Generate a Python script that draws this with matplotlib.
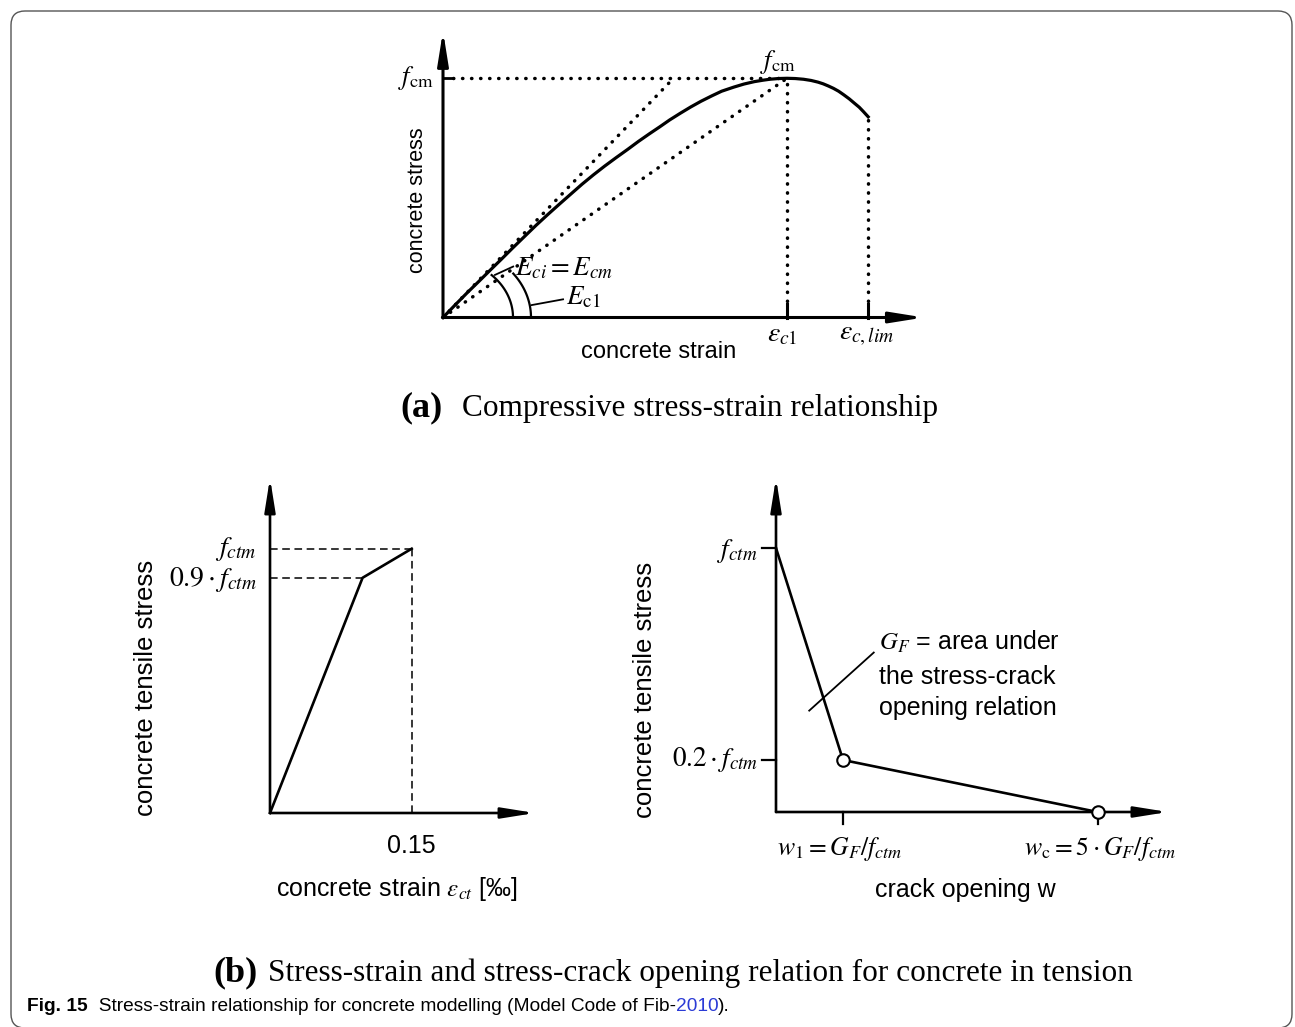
import numpy as np
import matplotlib
matplotlib.use("Agg")
import matplotlib.pyplot as plt
from matplotlib.patches import FancyBboxPatch

plt.rcParams["mathtext.fontset"] = "stix"
plt.rcParams["font.family"] = ["Liberation Sans", "DejaVu Sans"]

W, H = 1295, 1027

# ---------------- data ----------------
# (a) compressive curve: strain / eps_c1, stress / f_cm
comp_strain = [0, 0.035, 0.07, 0.105, 0.138, 0.17, 0.20, 0.235, 0.271, 0.305, 0.34, 0.37,
               0.404, 0.437, 0.47, 0.503, 0.537, 0.568, 0.60, 0.63, 0.659, 0.69, 0.72,
               0.75, 0.782, 0.81, 0.845, 0.875, 0.905, 0.93, 0.95, 0.975, 1.0, 1.024,
               1.048, 1.07, 1.09, 1.105, 1.12, 1.135, 1.15, 1.165, 1.181, 1.195, 1.21,
               1.222, 1.236]
comp_stress = [0, 0.052, 0.103, 0.152, 0.199, 0.244, 0.287, 0.336, 0.386, 0.431, 0.476,
               0.514, 0.557, 0.596, 0.633, 0.668, 0.703, 0.736, 0.768, 0.797, 0.826,
               0.854, 0.880, 0.904, 0.927, 0.946, 0.963, 0.976, 0.986, 0.992, 0.996,
               0.999, 1.0, 0.999, 0.996, 0.991, 0.984, 0.977, 0.968, 0.958, 0.946,
               0.931, 0.914, 0.897, 0.879, 0.861, 0.839]
eps_c1 = 1.0
eps_clim = 1.236
f_cm = 1.0
tangent_end = 0.67   # where the E_ci tangent meets f_cm

# (b) left: tension, strain in permille, stress / f_ctm
tens_strain = [0, 0.098, 0.15]
tens_stress = [0, 0.89, 1.0]

# (b) right: stress vs crack opening, w / w1, stress / f_ctm
crack_w = [0, 1.0, 4.8]
crack_stress = [1.0, 0.197, 0]

fig = plt.figure(figsize=(W / 100, H / 100), dpi=100)

# pixel-space background axes for frame and captions
bg = fig.add_axes([0, 0, 1, 1])
bg.set_xlim(0, W)
bg.set_ylim(H, 0)
bg.axis("off")
bg.add_patch(FancyBboxPatch((11, 11), 1281, 1017, boxstyle="round,pad=0,rounding_size=14",
                            fc="none", ec="#555555", lw=1.0))


def panel(x0, y0, sx, sy, xmax, ymax):
    # x0, y0 = origin in pixels, sx, sy = pixels per data unit
    ax = fig.add_axes([x0 / W, (H - y0) / H, xmax * sx / W, ymax * sy / H])
    ax.set_xlim(0, xmax)
    ax.set_ylim(0, ymax)
    ax.axis("off")
    return ax


def axis_arrows(ax, xmax, ymax, lw):
    kw = dict(arrowstyle="-|>,head_length=2.0,head_width=0.32", lw=lw, color="k",
              shrinkA=0, shrinkB=0)
    ax.annotate("", xy=(xmax, 0), xytext=(0, 0), arrowprops=kw, annotation_clip=False)
    ax.annotate("", xy=(0, ymax), xytext=(0, 0), arrowprops=kw, annotation_clip=False)


def label(ax, s, xy, off, size, **kw):
    return ax.annotate(s, xy=xy, xytext=off, textcoords="offset pixels",
                       fontsize=size, annotation_clip=False, **kw)


# ---------------- (a) compressive ----------------
sxa, sya = 344, 239.2
ax_a = panel(443, 317.5, sxa, sya, 1.398, 1.198)
axis_arrows(ax_a, 1.398, 1.198, 2.2)
ax_a.plot(comp_strain, comp_stress, color="k", lw=2.3, solid_joinstyle="round",
          clip_on=False)

dot = dict(color="k", lw=2.5, linestyle=(0, (0.1, 2.5)), dash_capstyle="round",
           clip_on=False)
ax_a.plot([0.03, eps_c1], [f_cm, f_cm], **dot)
ax_a.plot([0, tangent_end], [0, f_cm], **dot)
ax_a.plot([0, eps_c1], [0, f_cm], **dot)
ax_a.plot([eps_c1, eps_c1], [0.07, f_cm], **dot)
ax_a.plot([eps_clim, eps_clim], [0.07, comp_stress[-1]], **dot)
ax_a.plot([0, 0.022], [f_cm, f_cm], color="k", lw=2, clip_on=False)
for e in (eps_c1, eps_clim):
    ax_a.plot([e, e], [0, 0.058], color="k", lw=2.2, clip_on=False)

# angle arcs (pixel radii)
for rx, ry, t_end in ((70, 59, 46), (88, 73, 37)):
    t = np.radians(np.linspace(0, t_end, 40))
    ax_a.plot(rx * np.cos(t) / sxa, ry * np.sin(t) / sya, color="k", lw=1.6, clip_on=False)
ax_a.plot([0.151, 0.204], [0.178, 0.213], color="k", lw=1.3, clip_on=False)
ax_a.plot([0.258, 0.349], [0.052, 0.076], color="k", lw=1.3, clip_on=False)

label(ax_a, r"$E_{ci}=E_{cm}$", (0.209, 0.207), (0, 0), 19.5, ha="left", va="center")
label(ax_a, r"$E_{\rm c1}$", (0.358, 0.082), (0, 0), 19.5, ha="left", va="center")
label(ax_a, r"$f_{\rm cm}$", (0, f_cm), (-9, 0), 19, ha="right", va="center")
label(ax_a, r"$f_{\rm cm}$", (eps_c1, f_cm), (-9, 16), 19, ha="center", va="center")
label(ax_a, r"$\varepsilon_{c1}$", (eps_c1, 0), (-5, -17), 20, ha="center", va="center")
label(ax_a, r"$\varepsilon_{c,lim}$", (eps_clim, 0), (-2, -17), 20, ha="center",
      va="center")
label(ax_a, "concrete stress", (0, 0.491), (-26, 0), 15.5, ha="center", va="center",
      rotation=90)
label(ax_a, "concrete strain", (0.628, 0), (0, -34), 17, ha="center", va="center")

# ---------------- (b) left: tension ----------------
ax_b1 = panel(270, 813, 944.7, 264.3, 0.2805, 1.2675)
axis_arrows(ax_b1, 0.2805, 1.2675, 1.9)
ax_b1.plot(tens_strain, tens_stress, color="k", lw=1.9, clip_on=False)
dash = dict(color="k", lw=1.1, linestyle=(0, (5, 3)), clip_on=False)
ax_b1.plot([0, tens_strain[2]], [tens_stress[2]] * 2, **dash)
ax_b1.plot([0, tens_strain[1]], [tens_stress[1]] * 2, **dash)
ax_b1.plot([tens_strain[2]] * 2, [0, tens_stress[2]], **dash)

label(ax_b1, r"$f_{ctm}$", (0, tens_stress[2]), (-13, 0), 20, ha="right", va="center")
label(ax_b1, r"$0.9\cdot f_{ctm}$", (0, tens_stress[1]), (-13, -2), 20, ha="right",
      va="center")
label(ax_b1, "0.15", (tens_strain[2], 0), (0, -33), 18, ha="center", va="center")
label(ax_b1, "concrete strain $\\varepsilon_{ct}$ [\u2030]", (0.1344, 0), (0, -76), 18,
      ha="center", va="center")
label(ax_b1, "concrete tensile stress", (0, 0.473), (-124, 0), 18.5, ha="center",
      va="center", rotation=90)

# ---------------- (b) right: crack opening ----------------
sxc, syc = 67, 264
ax_b2 = panel(776, 812, sxc, syc, 5.85, 1.265)
axis_arrows(ax_b2, 5.85, 1.265, 1.9)
ax_b2.plot(crack_w, crack_stress, color="k", lw=1.9, clip_on=False)
ax_b2.plot(crack_w[1:], crack_stress[1:], "o", mfc="white", mec="k", ms=9, mew=1.5,
           clip_on=False, zorder=5)
for yv in crack_stress[:2]:
    ax_b2.plot([-14 / sxc, 0], [yv, yv], color="k", lw=1.6, clip_on=False)
for xv in crack_w[1:]:
    ax_b2.plot([xv, xv], [0, -12 / syc], color="k", lw=1.6, clip_on=False)

label(ax_b2, r"$f_{ctm}$", (0, crack_stress[0]), (-18, -3), 19.5, ha="right", va="center")
label(ax_b2, r"$0.2\cdot f_{ctm}$", (0, crack_stress[1]), (-18, 0), 19.5, ha="right",
      va="center")
label(ax_b2, r"$w_1=G_F/f_{ctm}$", (crack_w[1], 0), (-3, -37), 18.5, ha="center",
      va="center")
label(ax_b2, r"$w_{\rm c}=5\cdot G_F/f_{ctm}$", (crack_w[2], 0), (2, -37), 18.5,
      ha="center", va="center")
label(ax_b2, "crack opening w", (2.82, 0), (0, -78), 18, ha="center", va="center")
label(ax_b2, "concrete tensile stress", (0, 0.462), (-131, 0), 18.5, ha="center",
      va="center", rotation=90)
ax_b2.plot([0.496, 1.459], [0.384, 0.604], color="k", lw=1.3, clip_on=False)
for s, yv in ((r"$G_F$ = area under", 0.644), ("the stress-crack", 0.511),
              ("opening relation", 0.394)):
    label(ax_b2, s, (1.537, yv), (0, 0), 18, ha="left", va="center")

# ---------------- captions ----------------
serif = ["Liberation Serif", "DejaVu Serif"]
bg.text(400, 416, "(a)", family=serif, weight="bold", fontsize=26, va="baseline")
bg.text(462, 416, "Compressive stress-strain relationship", family=serif, fontsize=22.5,
        va="baseline")
bg.text(213, 981, "(b)", family=serif, weight="bold", fontsize=26, va="baseline")
bg.text(268, 981, "Stress-strain and stress-crack opening relation for concrete in tension",
        family=serif, fontsize=22.5, va="baseline")

cap = ["Liberation Sans", "DejaVu Sans"]
t1 = bg.text(27, 1011, "Fig. 15", family=cap, weight="bold", fontsize=13.8, va="baseline")
t2 = bg.annotate("  Stress-strain relationship for concrete modelling (Model Code of Fib-",
                 xy=(1, 0), xycoords=t1, va="bottom", family=cap, fontsize=13.8)
t3 = bg.annotate("2010", xy=(1, 0), xycoords=t2, va="bottom", family=cap, fontsize=13.8,
                 color="#2b3bd6")
bg.annotate(").", xy=(1, 0), xycoords=t3, va="bottom", family=cap, fontsize=13.8)

fig.savefig("out.png", dpi=100)
